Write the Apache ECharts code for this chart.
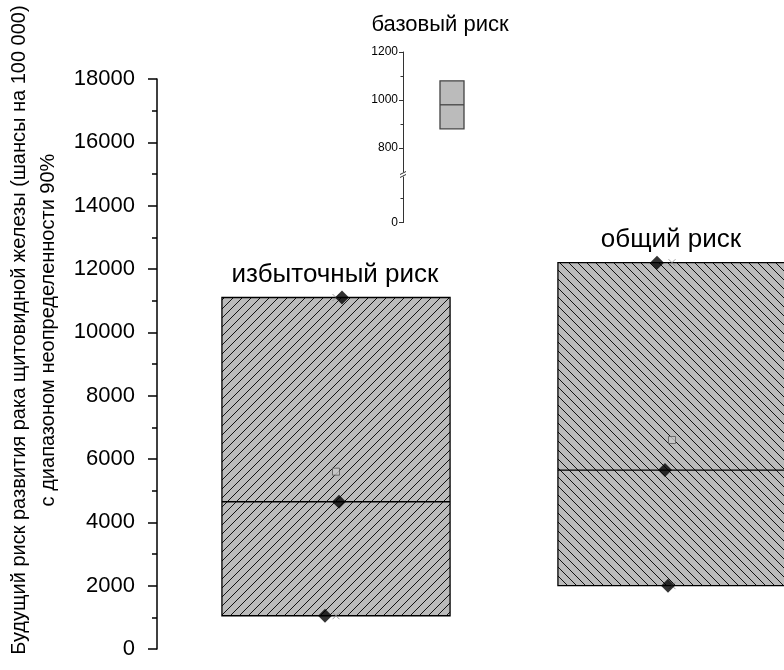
<!DOCTYPE html>
<html><head><meta charset="utf-8">
<script src="https://cdn.jsdelivr.net/npm/echarts@6/dist/echarts.min.js"></script>
<style>html,body{margin:0;padding:0;background:#fff}#c{width:784px;height:670px}</style>
</head><body><div id="c"></div>
<script>
// ---- data ----
const categories = ['избыточный риск', 'общий риск'];
const boxLow     = [1050, 2000];
const boxMedian  = [4650, 5650];
const boxHigh    = [11100, 12200];
const boxMean    = [5600, 6600];
const pointVals  = [[11100, 4650, 1050], [12200, 5650, 2000]];
const extremeVals = [[11100, 1050], [12200, 2000]];
const baseCategory = ['базовый риск'];
const baseLow = [880], baseMedian = [980], baseHigh = [1080];
const mainTicks = [0, 18000, 2000];
const insetLabelsUpper = [800, 1000, 1200];
const insetMinorUpper = [900, 1100];
const insetLabelsLower = [0];
const insetMinorLower = [100];
const yTitle = 'Будущий риск развития рака щитовидной железы (шансы на 100 000)\nс диапазоном неопределенности 90%';

// ---- styling helpers ----
const FONT = '"Liberation Sans", Arial, sans-serif';
function hatch(dir) {
  const s = 9, c = document.createElement('canvas');
  c.width = s; c.height = s;
  const g = c.getContext('2d');
  g.fillStyle = '#bbbbbb'; g.fillRect(0, 0, s, s);
  g.strokeStyle = '#111'; g.lineWidth = 1;
  g.beginPath();
  if (dir > 0) {
    g.moveTo(-1, s + 1); g.lineTo(s + 1, -1);
    g.moveTo(-1, 1); g.lineTo(1, -1);
    g.moveTo(s - 1, s + 1); g.lineTo(s + 1, s - 1);
  } else {
    g.moveTo(-1, -1); g.lineTo(s + 1, s + 1);
    g.moveTo(s - 1, -1); g.lineTo(s + 1, 1);
    g.moveTo(-1, s - 1); g.lineTo(1, s + 1);
  }
  g.stroke();
  return { image: c, repeat: 'repeat' };
}
const patterns = [hatch(1), hatch(-1)];
const jitter = [[6, 3, -11], [-15, -7, -4]];
const plain = v => String(v);

const boxData = categories.map((c, i) => [i, boxLow[i], boxMedian[i], boxHigh[i]]);
const diamondData = [];
pointVals.forEach((arr, i) => arr.forEach((v, k) => diamondData.push({ value: [i, v], symbolOffset: [jitter[i][k], 0] })));
const crossData = [];
extremeVals.forEach((arr, i) => arr.forEach(v => crossData.push([i, v])));
const meanData = boxMean.map((v, i) => [i, v]);

function boxRender(fillFn, stroke, widthUnits, withLabel, labelSize) {
  return function (params, api) {
    const x = api.value(0);
    const lo = api.coord([x, api.value(1)]);
    const md = api.coord([x, api.value(2)]);
    const hi = api.coord([x, api.value(3)]);
    const w = api.size([widthUnits, 0])[0];
    const children = [
      { type: 'rect', shape: { x: lo[0] - w / 2, y: hi[1], width: w, height: lo[1] - hi[1] },
        style: { fill: fillFn(params.dataIndex), stroke: stroke, lineWidth: 1.3 } },
      { type: 'line', shape: { x1: lo[0] - w / 2, y1: md[1], x2: lo[0] + w / 2, y2: md[1] },
        style: { stroke: stroke, lineWidth: 1.3 } }
    ];
    if (withLabel) {
      children.push({ type: 'text', x: lo[0] - 1, y: hi[1] - 10,
        style: { text: categories[params.dataIndex], font: labelSize + 'px ' + FONT, fill: '#000',
          textAlign: 'center', textVerticalAlign: 'bottom' } });
    }
    return { type: 'group', children };
  };
}

const chart = echarts.init(document.getElementById('c'), null, { renderer: 'canvas' });
const hiddenVal = (idx, min, max) => ({ type: 'value', gridIndex: idx, min, max, show: false, splitLine: { show: false } });
const insetAxis = (grid, min, max, ticks, len, withLine, withLabels) => ({
  type: 'value', gridIndex: grid, min, max, position: 'left', offset: 0,
  axisLine: { show: withLine, onZero: false, lineStyle: { color: '#333', width: 1 } },
  axisTick: { show: true, length: len, customValues: ticks, lineStyle: { color: '#333' } },
  splitLine: { show: false },
  axisLabel: withLabels ? { color: '#000', fontSize: 12, fontFamily: FONT, margin: 5, customValues: ticks, formatter: plain } : { show: false }
});

chart.setOption({
  animation: false,
  backgroundColor: '#fff',
  grid: [
    { left: 157, top: 79, right: 0, height: 570 },
    { left: 403, top: 52, width: 98, height: 120 },
    { left: 403, top: 177, width: 98, height: 45.6 }
  ],
  xAxis: [
    hiddenVal(0, -0.53274, 1.33333),
    hiddenVal(1, -0.5, 0.5),
    hiddenVal(2, -0.5, 0.5)
  ],
  yAxis: [
    { type: 'value', gridIndex: 0, min: mainTicks[0], max: mainTicks[1], interval: mainTicks[2], position: 'left',
      axisLine: { show: true, onZero: false, lineStyle: { color: '#000', width: 1.5 } },
      axisTick: { show: true, length: 9, lineStyle: { color: '#000', width: 1.5 } },
      minorTick: { show: true, splitNumber: 2, length: 5, lineStyle: { color: '#000', width: 1.5 } },
      splitLine: { show: false },
      axisLabel: { color: '#000', fontSize: 22, fontFamily: FONT, margin: 22, formatter: plain } },
    insetAxis(1, 700, 1200, insetLabelsUpper, 4, true, true),
    insetAxis(1, 700, 1200, insetMinorUpper, 2.5, false, false),
    insetAxis(2, 0, 190, insetLabelsLower, 4, true, true),
    insetAxis(2, 0, 190, insetMinorLower, 2.5, false, false)
  ],
  series: [
    { type: 'custom', xAxisIndex: 0, yAxisIndex: 0, data: boxData, z: 2,
      renderItem: boxRender(i => patterns[i], '#000', 0.679, true, 26) },
    { type: 'scatter', xAxisIndex: 0, yAxisIndex: 0, data: crossData, z: 3,
      symbol: 'path://M0,0L10,10M10,0L0,10', symbolSize: 7,
      itemStyle: { color: 'none', borderColor: '#888', borderWidth: 1 } },
    { type: 'scatter', xAxisIndex: 0, yAxisIndex: 0, data: meanData, z: 4,
      symbol: 'rect', symbolSize: 7,
      itemStyle: { color: '#c8c8c8', borderColor: '#555', borderWidth: 1 } },
    { type: 'scatter', xAxisIndex: 0, yAxisIndex: 0, data: diamondData, z: 5,
      symbol: 'diamond', symbolSize: 14, itemStyle: { color: '#000' } },
    { type: 'custom', xAxisIndex: 1, yAxisIndex: 1,
      data: baseCategory.map((c, i) => [i, baseLow[i], baseMedian[i], baseHigh[i]]),
      renderItem: boxRender(() => '#bbbbbb', '#444', 0.245, false, 12) }
  ]
});

// decorations: inset title, axis break mark, axis title
const yBreakTop = chart.convertToPixel({ yAxisIndex: 1 }, 700);
const yBreakBot = chart.convertToPixel({ yAxisIndex: 3 }, 190);
const axX = 403;
const yb = (yBreakTop + yBreakBot) / 2;
chart.setOption({
  graphic: [
    { type: 'text', x: 440, y: 25, style: { text: baseCategory[0], font: '22px ' + FONT, fill: '#000', textAlign: 'center', textVerticalAlign: 'middle' } },
    { type: 'line', shape: { x1: axX - 3, y1: yb + 0, x2: axX + 3, y2: yb - 3 }, style: { stroke: '#333', lineWidth: 1 } },
    { type: 'line', shape: { x1: axX - 3, y1: yb + 3, x2: axX + 3, y2: yb }, style: { stroke: '#333', lineWidth: 1 } },
    { type: 'text', x: 34, y: 330, rotation: Math.PI / 2,
      style: { text: yTitle, font: '20px ' + FONT, fill: '#000', textAlign: 'center', textVerticalAlign: 'middle', lineHeight: 29 } }
  ]
});
</script></body></html>
